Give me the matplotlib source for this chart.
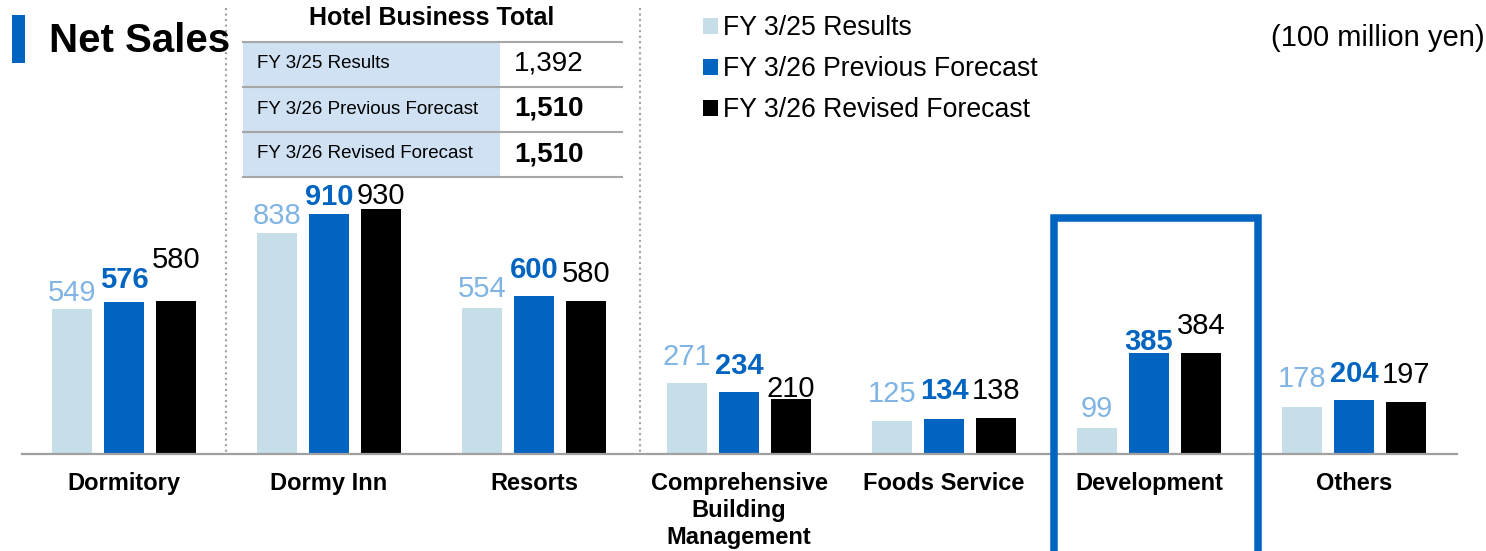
import numpy as np
import matplotlib.pyplot as plt
from matplotlib.patches import Rectangle
from matplotlib.lines import Line2D

plt.rcParams['font.family'] = ['Liberation Sans', 'DejaVu Sans']

# Net sales by segment (100 million yen)
categories = ['Dormitory', 'Dormy Inn', 'Resorts', 'Comprehensive\nBuilding\nManagement',
              'Foods Service', 'Development', 'Others']
series_names = ['FY 3/25 Results', 'FY 3/26 Previous Forecast', 'FY 3/26 Revised Forecast']
results_fy25 = [549, 838, 554, 271, 125, 99, 178]
prev_fy26 = [576, 910, 600, 234, 134, 385, 204]
revised_fy26 = [580, 930, 580, 210, 138, 384, 197]

hotel_rows = ['FY 3/25 Results', 'FY 3/26 Previous Forecast', 'FY 3/26 Revised Forecast']
hotel_totals = ['1,392', '1,510', '1,510']

# the slide has hand placed labels, gap above bar top in px
label_gap = [
    [8, 9, 11, 18, 19, 11, 20],
    [14, 9, 18, 18, 20, 3, 18],
    [33, 5, 19, 2, 19, 19, 19],
]

W, H = 1486, 551
BLUE = '#0064c0'
bar_colors = ['#c6dee8', BLUE, '#000000']
label_colors = ['#80b4e4', BLUE, '#000000']
label_weights = ['normal', 'bold', 'normal']


def fx(x):
    return x / W


def fy(y):
    return 1 - y / H


def main():
    fig = plt.figure(figsize=(W / 100, H / 100), dpi=100)

    # bar area: baseline at y=454px, 205px per group
    ax = fig.add_axes([fx(21.5), fy(454), 1435 / W, 454 / H])
    ax.set_xlim(-0.5, 6.5)
    ax.set_ylim(0, 454 / 0.2633)

    x = np.arange(len(categories))
    step = 52 / 205
    width = 40 / 205
    all_series = [results_fy25, prev_fy26, revised_fy26]
    handles = []
    for k, vals in enumerate(all_series):
        pos = x + (k - 1) * step
        b = ax.bar(pos, vals, width=width, color=bar_colors[k], label=series_names[k], zorder=2)
        handles.append(b)
        for i, v in enumerate(vals):
            ax.annotate(str(v), xy=(pos[i], v), xytext=(0, label_gap[k][i] * 0.72),
                        textcoords='offset points', ha='center', va='baseline',
                        fontsize=21, color=label_colors[k], fontweight=label_weights[k])

    for s in ['top', 'left', 'right']:
        ax.spines[s].set_visible(False)
    ax.spines['bottom'].set_color('#a0a0a0')
    ax.spines['bottom'].set_linewidth(1.6)
    ax.set_yticks([])
    ax.set_xticks(x)
    ax.set_xticklabels(categories, fontsize=17, fontweight='bold', linespacing=1.22)
    ax.tick_params(axis='x', length=0, pad=13)
    ax.patch.set_alpha(0)

    # dotted separators around the hotel business
    for sx in [226, 640]:
        fig.add_artist(Line2D([fx(sx), fx(sx)], [fy(8), fy(454)], color='#a0a0a0',
                              lw=1.5, linestyle=':'))

    # highlight box on Development
    fig.add_artist(Line2D([fx(1054), fx(1054), fx(1258), fx(1258)],
                          [fy(570), fy(218), fy(218), fy(570)],
                          color=BLUE, lw=5.4, solid_joinstyle='miter', zorder=5))

    # title
    fig.add_artist(Rectangle((fx(12), fy(63)), 13 / W, 48 / H, transform=fig.transFigure,
                             color=BLUE, lw=0))
    fig.text(fx(49), fy(52), 'Net Sales', fontsize=29, fontweight='bold', va='baseline')

    fig.text(fx(1485), fy(46), '(100 million yen)', fontsize=21, ha='right', va='baseline')

    # hotel business total table
    fig.text(fx(432), fy(25), 'Hotel Business Total', fontsize=18, fontweight='bold',
             ha='center', va='baseline')
    row_top = 41.5
    row_h = 45
    for r, (name, total) in enumerate(zip(hotel_rows, hotel_totals)):
        y0 = row_top + r * row_h
        fig.add_artist(Rectangle((fx(243), fy(y0 + row_h)), 257 / W, row_h / H,
                                 transform=fig.transFigure, color='#cfe1f2', lw=0))
        yc = fy(y0 + row_h / 2)
        fig.text(fx(257), yc, name, fontsize=13.5, va='center')
        fig.text(fx(584), yc, total, fontsize=20, ha='right', va='center',
                 fontweight='normal' if r == 0 else 'bold')
    for r in range(len(hotel_rows) + 1):
        yl = fy(row_top + r * row_h)
        fig.add_artist(Line2D([fx(243), fx(622)], [yl, yl], color='#a6a6a6', lw=1.5))

    fig.legend(handles=handles, labels=series_names, loc='upper left',
               bbox_to_anchor=(fx(703), fy(15)), frameon=False, fontsize=19.2,
               handlelength=0.55, handleheight=0.55, handletextpad=0.2,
               labelspacing=0.57, borderpad=0, borderaxespad=0)

    fig.savefig('out.png', dpi=100)


if __name__ == "__main__":
    main()
